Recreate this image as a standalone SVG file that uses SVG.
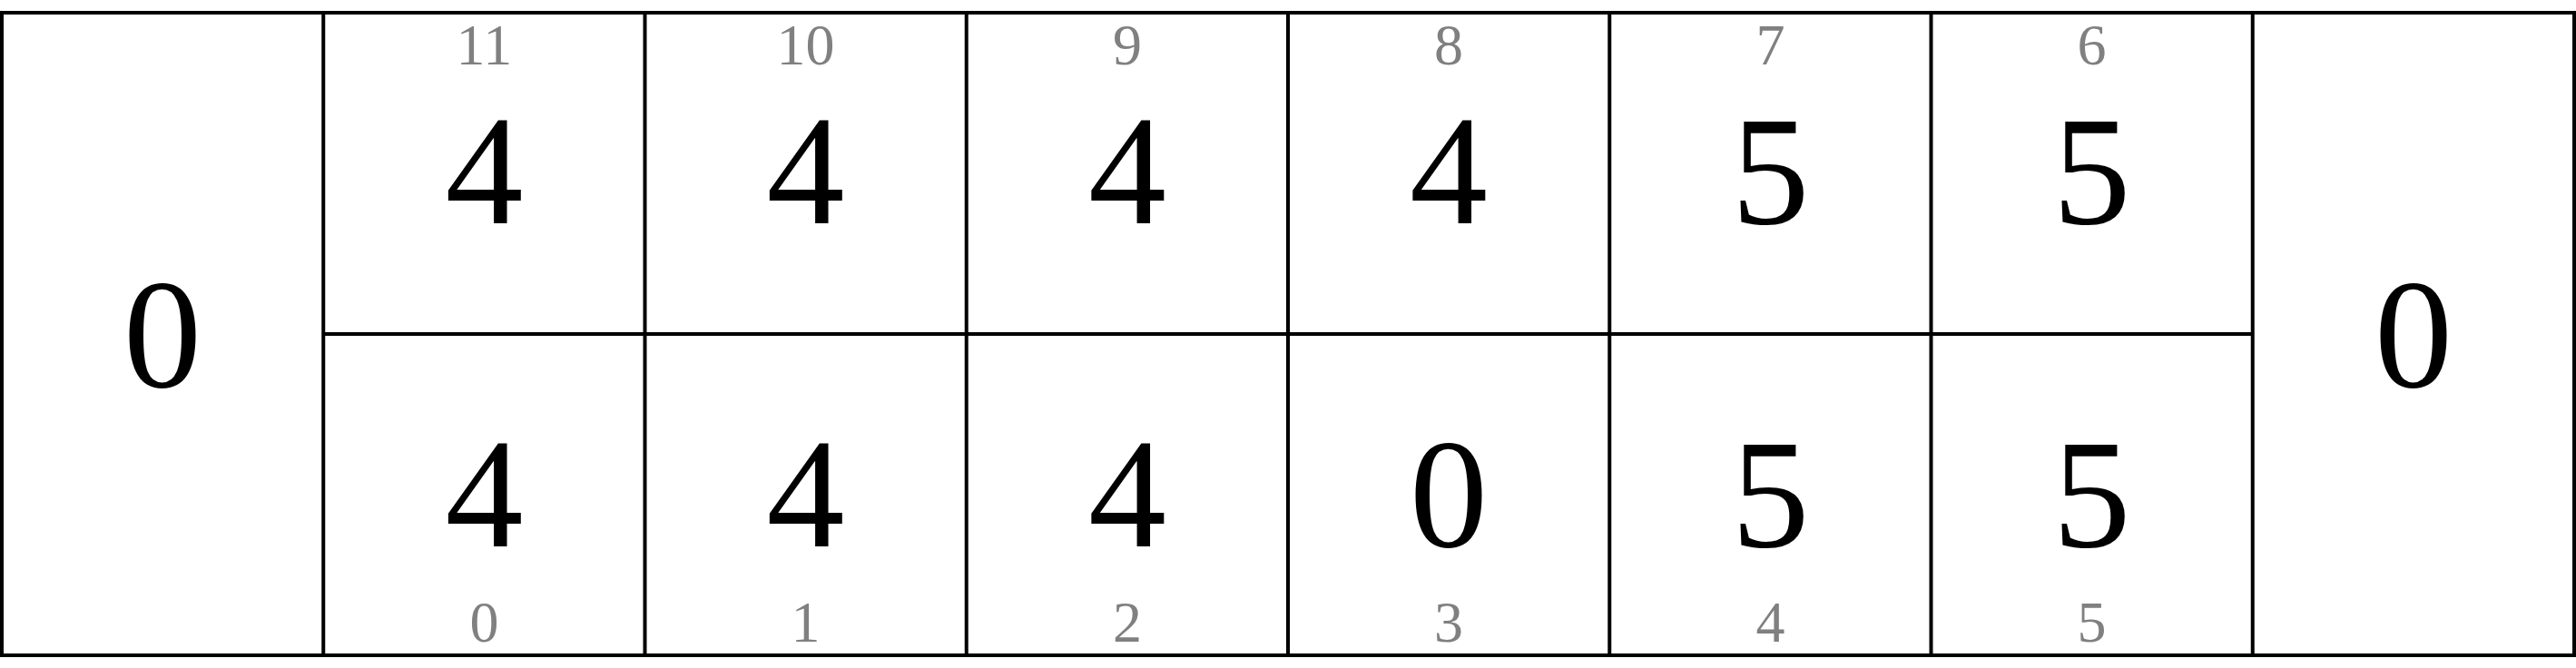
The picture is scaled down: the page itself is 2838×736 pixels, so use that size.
<svg xmlns="http://www.w3.org/2000/svg" width="2838" height="736" viewBox="0 0 2838 736">
<style>
.ln{stroke:#000;stroke-width:4;fill:none}
.big{font-family:"Liberation Serif","DejaVu Serif",serif;font-size:172px;fill:#000;text-anchor:middle}
.lab{font-family:"Liberation Serif","DejaVu Serif",serif;font-size:64px;fill:#808080;text-anchor:middle}
</style>
<rect width="2838" height="736" fill="#fff"/>
<g id="connectors">
<rect class="ln" x="2" y="14" width="2834" height="708"/>
<line class="ln" x1="356.25" y1="368" x2="2481.75" y2="368"/>
<line class="ln" x1="356.25" y1="14" x2="356.25" y2="722"/>
<line class="ln" x1="710.5" y1="14" x2="710.5" y2="722"/>
<line class="ln" x1="1064.75" y1="14" x2="1064.75" y2="722"/>
<line class="ln" x1="1419" y1="14" x2="1419" y2="722"/>
<line class="ln" x1="1773.25" y1="14" x2="1773.25" y2="722"/>
<line class="ln" x1="2127.5" y1="14" x2="2127.5" y2="722"/>
<line class="ln" x1="2481.75" y1="14" x2="2481.75" y2="722"/>
</g>
<g id="store-left"><text class="big" x="179" y="426">0</text></g>
<g id="store-right"><text class="big" x="2659" y="426">0</text></g>
<g id="pit-11"><text class="lab" x="533.4" y="71">11</text><text class="big" x="533.4" y="246">4</text></g>
<g id="pit-10"><text class="lab" x="887.6" y="71">10</text><text class="big" x="887.6" y="246">4</text></g>
<g id="pit-9"><text class="lab" x="1241.9" y="71">9</text><text class="big" x="1241.9" y="246">4</text></g>
<g id="pit-8"><text class="lab" x="1596.1" y="71">8</text><text class="big" x="1596.1" y="246">4</text></g>
<g id="pit-7"><text class="lab" x="1950.4" y="71">7</text><text class="big" x="1950.4" y="246">5</text></g>
<g id="pit-6"><text class="lab" x="2304.6" y="71">6</text><text class="big" x="2304.6" y="246">5</text></g>
<g id="pit-0"><text class="big" x="533.4" y="602">4</text><text class="lab" x="533.4" y="707">0</text></g>
<g id="pit-1"><text class="big" x="887.6" y="602">4</text><text class="lab" x="887.6" y="707">1</text></g>
<g id="pit-2"><text class="big" x="1241.9" y="602">4</text><text class="lab" x="1241.9" y="707">2</text></g>
<g id="pit-3"><text class="big" x="1596.1" y="602">0</text><text class="lab" x="1596.1" y="707">3</text></g>
<g id="pit-4"><text class="big" x="1950.4" y="602">5</text><text class="lab" x="1950.4" y="707">4</text></g>
<g id="pit-5"><text class="big" x="2304.6" y="602">5</text><text class="lab" x="2304.6" y="707">5</text></g>
</svg>
